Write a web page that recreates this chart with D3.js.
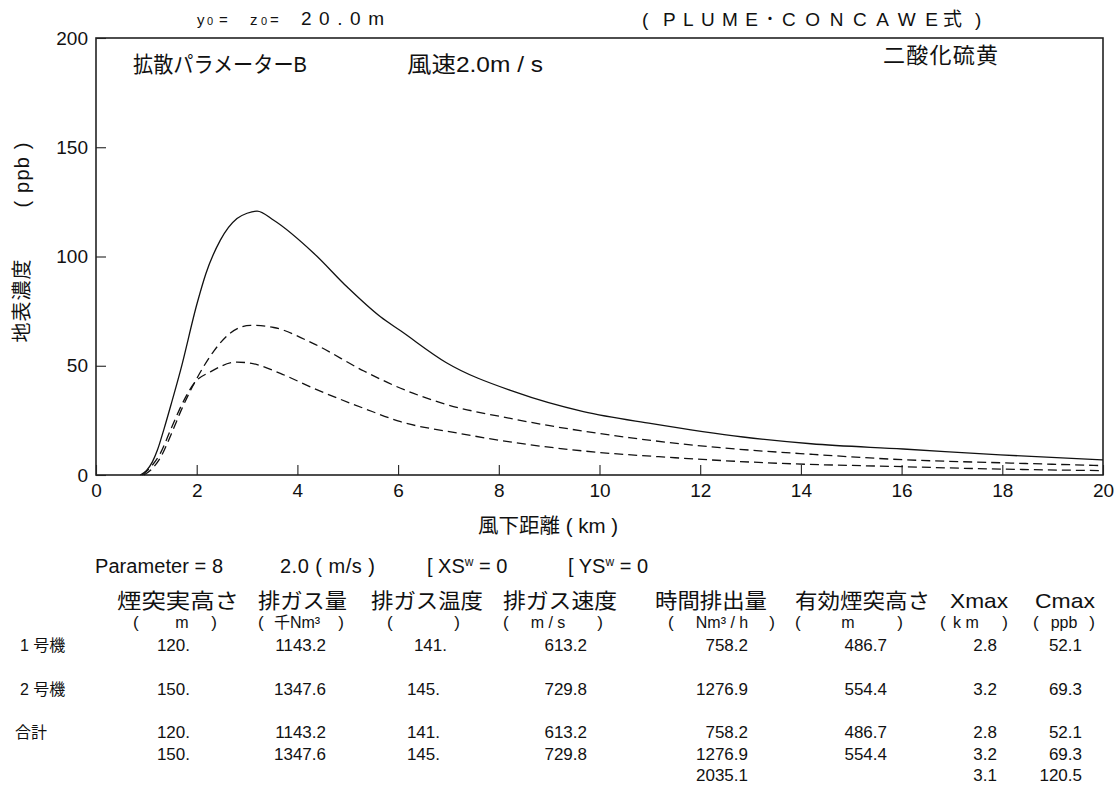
<!DOCTYPE html>
<html>
<head>
<meta charset="utf-8">
<script src="https://cdn.jsdelivr.net/npm/d3@7"></script>
<style>
  body { margin: 0; background: #fff; }
  svg { font-family: "Liberation Sans", Arial, "Noto Sans CJK JP", sans-serif; }
</style>
</head>
<body>
<script>

// curve data (km, ppb)
let totalKm  = [0.88, 1.0, 1.12, 1.22, 1.35, 1.5, 1.68, 2.01, 2.18, 2.47, 2.8, 3.0, 3.2, 3.53, 4.33, 4.99, 5.65, 6.05, 6.96, 8.32, 9.68, 11.04, 12.85, 14.2, 16.03, 17.96, 20];
let totalPpb = [0, 2, 6, 11.4, 21, 33, 48, 78.7, 92, 107.5, 117.4, 119.8, 120.8, 116.6, 101.4, 86, 72.4, 66, 51.4, 38, 29, 23.5, 17.4, 14.3, 11.9, 9.2, 6.9];

let unit2Km  = [0.95, 1.1, 1.28, 1.5, 1.68, 2.01, 2.34, 2.67, 3.07, 3.53, 4.33, 5.32, 6.05, 6.84, 8.32, 10.59, 12.4, 14.2, 16.03, 17.96, 20];
let unit2Ppb = [0, 2.5, 8, 19, 29, 44.5, 56.7, 65, 68.5, 67.5, 60, 47.6, 39.7, 33.1, 25.5, 17.1, 12.5, 9.5, 7.0, 5.6, 4.3];

let unit1Km  = [0.92, 1.1, 1.28, 1.48, 1.7, 1.95, 2.28, 2.8, 3.2, 3.66, 4.33, 5.32, 6.05, 7.23, 8.32, 9.68, 11.5, 13.3, 16.03, 17.96, 20];
let unit1Ppb = [0, 4, 10, 20.6, 32, 42, 47.3, 51.7, 50.5, 46.5, 39.6, 30.5, 24.4, 19, 14.8, 11, 7.9, 5.6, 3.8, 2.7, 2.0];

let xTicks = [0, 2, 4, 6, 8, 10, 12, 14, 16, 18, 20];
let yTicks = [0, 50, 100, 150, 200];

// table below the chart
let colHeaders = ["煙突実高さ", "排ガス量", "排ガス温度", "排ガス速度", "時間排出量", "有効煙突高さ", "Xmax", "Cmax"];
let colUnits   = ["m", "千Nm³", "", "m / s", "Nm³ / h", "m", "k m", "ppb"];
let rowLabels  = ["1 号機", "2 号機", "合計"];
let unit1Row   = ["120.", "1143.2", "141.", "613.2", "758.2", "486.7", "2.8", "52.1"];
let unit2Row   = ["150.", "1347.6", "145.", "729.8", "1276.9", "554.4", "3.2", "69.3"];
let totalRow   = ["", "", "", "", "2035.1", "", "3.1", "120.5"];

let width = 1117,
    height = 788;

let svg = d3.select("body").append("svg")
    .attr("width", width)
    .attr("height", height);

let x = d3.scaleLinear().domain([0, 20]).range([96, 1103]);
let y = d3.scaleLinear().domain([0, 200]).range([475, 38]);

// ---- header texts
let hdr = svg.append("g").attr("fill", "#111");
hdr.append("text").attr("x", 197).attr("y", 25).style("font-size", "15px").text("y");
hdr.append("text").attr("x", 207).attr("y", 25).style("font-size", "11px").text("0");
hdr.append("text").attr("x", 219).attr("y", 25).style("font-size", "15px").attr("textLength", 15).text("=");
hdr.append("text").attr("x", 250).attr("y", 25).style("font-size", "15px").text("z");
hdr.append("text").attr("x", 261).attr("y", 25).style("font-size", "11px").text("0");
hdr.append("text").attr("x", 270).attr("y", 25).style("font-size", "15px").attr("textLength", 16).text("=");
hdr.append("text").attr("x", 301).attr("y", 25).style("font-size", "19px")
    .attr("textLength", 83).attr("lengthAdjust", "spacing").text("20.0m");

// (PLUME・CONCAWE式) built from pieces so the spacing follows the original
hdr.append("text").attr("x", 642).attr("y", 26).style("font-size", "19px").text("(");
hdr.append("text").attr("x", 663).attr("y", 26).style("font-size", "19px")
    .attr("textLength", 95).attr("lengthAdjust", "spacing").text("PLUME");
hdr.append("text").attr("x", 770).attr("y", 26).style("font-size", "19px").attr("text-anchor", "middle").text("･");
hdr.append("text").attr("x", 782).attr("y", 26).style("font-size", "19px")
    .attr("textLength", 156).attr("lengthAdjust", "spacing").text("CONCAWE");
hdr.append("text").attr("x", 943).attr("y", 26).style("font-size", "19px").text("式");
hdr.append("text").attr("x", 975).attr("y", 26).style("font-size", "19px").text(")");

// ---- plot frame and axes
svg.append("rect")
    .attr("x", x(0)).attr("y", y(200))
    .attr("width", x(20) - x(0)).attr("height", y(0) - y(200))
    .attr("fill", "none").attr("stroke", "#222").attr("stroke-width", 1.6);

let xAxis = d3.axisBottom(x).tickValues(xTicks).tickSizeInner(-10).tickSizeOuter(0).tickPadding(9);
let yAxis = d3.axisLeft(y).tickValues(yTicks).tickSizeInner(-10).tickSizeOuter(0).tickPadding(8);

let gx = svg.append("g").attr("transform", "translate(0," + y(0) + ")").call(xAxis);
let gy = svg.append("g").attr("transform", "translate(" + x(0) + ",0)").call(yAxis);
[gx, gy].forEach(function(g) {
  g.select(".domain").remove();
  g.selectAll("line").attr("stroke", "#222").attr("stroke-width", 1.1);
  g.selectAll("text").attr("fill", "#111").style("font-size", "19px")
    .style("font-family", "'Liberation Sans', Arial, sans-serif");
});

// axis titles
svg.append("text").attr("x", 478).attr("y", 533).style("font-size", "20px").attr("fill", "#111")
    .attr("textLength", 140).attr("lengthAdjust", "spacingAndGlyphs").text("風下距離 ( km )");
svg.append("text").attr("transform", "translate(29,301) rotate(-90)").attr("text-anchor", "middle")
    .style("font-size", "20px").attr("fill", "#111").attr("textLength", 83).text("地表濃度");
svg.append("text").attr("transform", "translate(29,175) rotate(-90)").attr("text-anchor", "middle")
    .style("font-size", "20px").attr("fill", "#111").attr("textLength", 65).text("( ppb )");

// labels inside the plot (slightly narrow glyphs in the original)
svg.append("text").attr("x", 133).attr("y", 72).style("font-size", "22px").attr("fill", "#111")
    .attr("textLength", 174).attr("lengthAdjust", "spacingAndGlyphs").text("拡散パラメーターB");
svg.append("text").attr("x", 407).attr("y", 72).style("font-size", "22px").attr("fill", "#111")
    .attr("textLength", 136).attr("lengthAdjust", "spacingAndGlyphs").text("風速2.0m / s");
svg.append("text").attr("x", 883).attr("y", 63).style("font-size", "22px").attr("fill", "#111")
    .attr("textLength", 115).text("二酸化硫黄");

// ---- curves
let line = d3.line()
    .x(function(d) { return x(d[0]); })
    .y(function(d) { return y(d[1]); })
    .curve(d3.curveMonotoneX);

let series = [
  { km: totalKm, ppb: totalPpb, dash: null },
  { km: unit2Km, ppb: unit2Ppb, dash: "9,5" },
  { km: unit1Km, ppb: unit1Ppb, dash: "9,5" }
];

svg.append("g").selectAll("path")
  .data(series)
  .enter().append("path")
    .attr("d", function(s) { return line(d3.zip(s.km, s.ppb)); })
    .attr("fill", "none")
    .attr("stroke", "#111")
    .attr("stroke-width", 1.3)
    .attr("stroke-dasharray", function(s) { return s.dash; });

// ---- parameter line
let par = svg.append("g").attr("fill", "#111").style("font-size", "20px");
par.append("text").attr("x", 95).attr("y", 573).attr("textLength", 128).text("Parameter = 8");
par.append("text").attr("x", 280).attr("y", 573).attr("textLength", 95).text("2.0 ( m/s )");
[["X", 427], ["Y", 568]].forEach(function(p) {
  let t = par.append("text").attr("x", p[1]).attr("y", 573);
  t.append("tspan").text("[ " + p[0] + "S");
  t.append("tspan").attr("dy", -7).style("font-size", "12px").text("w");
  t.append("tspan").attr("dy", 7).text(" = 0");
});

// ---- table (column positions)
let cols = [
  { hx: [117, 239],  par: [133, 217],  uc: 182,   vr: 190 },
  { hx: [258, 347],  par: [258, 344],  uc: 297,   vr: 326 },
  { hx: [371, 483],  par: [387, 460],  uc: 423,   vr: 440 },
  { hx: [503, 617],  par: [503, 603],  uc: 548,   vr: 587 },
  { hx: [655, 767],  par: [668, 775],  uc: 722,   vr: 748 },
  { hx: [795, 930],  par: [795, 903],  uc: 848,   vr: 887 },
  { hx: [950, 1008], par: [940, 1008], uc: 966,   vr: 997 },
  { hx: [1035, 1095], par: [1033, 1095], uc: 1064, vr: 1082 }
];

let tbl = svg.append("g").attr("fill", "#111");

cols.forEach(function(c, i) {
  tbl.append("text").attr("x", c.hx[0]).attr("y", 608).style("font-size", "21px")
    .attr("textLength", c.hx[1] - c.hx[0]).attr("lengthAdjust", "spacingAndGlyphs")
    .text(colHeaders[i]);
  tbl.append("text").attr("x", c.par[0]).attr("y", 628).style("font-size", "17px").text("(");
  tbl.append("text").attr("x", c.par[1]).attr("y", 628).style("font-size", "17px")
    .attr("text-anchor", "end").text(")");
  tbl.append("text").attr("x", c.uc).attr("y", 628).style("font-size", "16px")
    .attr("text-anchor", "middle").text(colUnits[i]);
});

let rows = [
  { vals: unit1Row, y: 651 },
  { vals: unit2Row, y: 695 },
  { vals: unit1Row, y: 738 },
  { vals: unit2Row, y: 760 },
  { vals: totalRow, y: 781 }
];

rows.forEach(function(r, ri) {
  r.vals.forEach(function(v, i) {
    if (!v) return;
    let dx = (ri == 0 && i == 2) ? 7 : 0;
    tbl.append("text").attr("x", cols[i].vr + dx).attr("y", r.y)
      .attr("text-anchor", "end").style("font-size", "17px").text(v);
  });
});

[[20, 651], [20, 695], [15, 738]].forEach(function(p, i) {
  tbl.append("text").attr("x", p[0]).attr("y", p[1]).style("font-size", "16px").text(rowLabels[i]);
});

</script>
</body>
</html>
